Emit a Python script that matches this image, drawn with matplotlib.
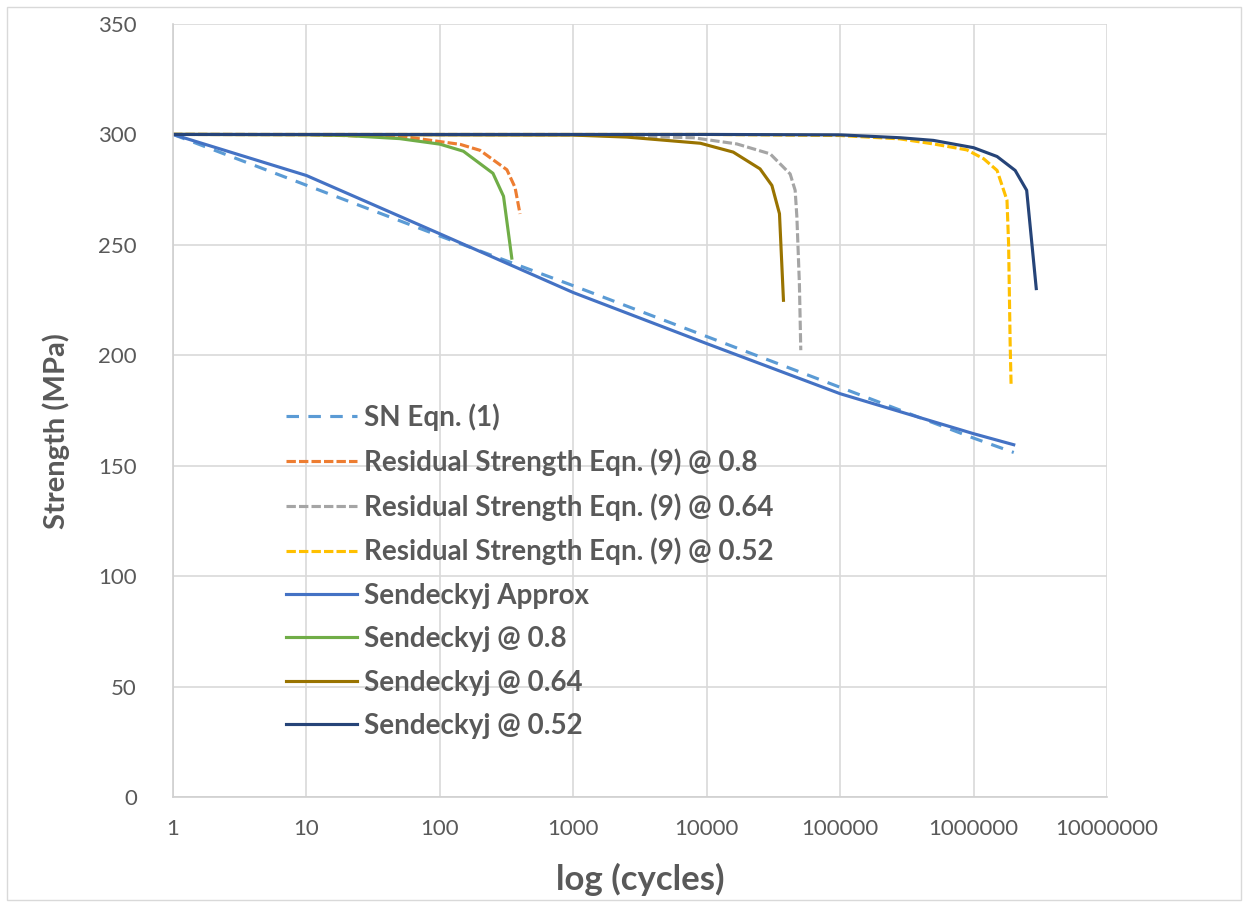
import matplotlib.pyplot as plt
from matplotlib.patches import Rectangle

# Dados (ciclos, resistência em MPa)
sn_ciclos = [1, 10, 100, 1000, 1e4, 1e5, 1e6, 2e6]
sn_forca = [300, 277, 254, 231.5, 208.5, 185.5, 162.5, 156]

res08_ciclos = [1, 10, 57, 142, 200, 318, 366, 399]
res08_forca = [300, 299.9, 298.8, 295.5, 292.8, 284, 276, 264]

res064_ciclos = [1, 1000, 7940, 16800, 29900, 42200, 46000, 47400, 49500, 50700]
res064_forca = [300, 299.8, 298.5, 295.7, 291.2, 282.1, 274.7, 262.6, 232.4, 202.3]

res052_ciclos = [1, 1e4, 1e5, 2.8e5, 5e5, 8.9e5, 1.19e6, 1.5e6, 1.78e6, 1.83e6, 1.88e6, 1.91e6]
res052_forca = [300, 300, 299.5, 298, 295.7, 293, 289, 283.7, 270.2, 250.5, 205.3, 187.1]

send_ciclos = [1, 10, 100, 1000, 1e4, 1e5, 1e6, 2e6]
send_forca = [300, 281.4, 255, 228.4, 205.3, 182.6, 164.5, 159.5]

send08_ciclos = [1, 10, 20, 50, 100, 150, 250, 300, 346]
send08_forca = [300, 299.9, 299.5, 298.1, 295.6, 292.4, 282.4, 272, 244]

send064_ciclos = [1, 1000, 2520, 8970, 15800, 25100, 30800, 35100, 37600]
send064_forca = [300, 299.7, 298.8, 296, 292, 284.4, 276.9, 264.1, 224.9]

send052_ciclos = [1, 1e4, 1e5, 2.82e5, 5e5, 1e6, 1.5e6, 2.05e6, 2.5e6, 2.95e6]
send052_forca = [300, 300, 299.8, 298.5, 297.3, 294, 290, 283.7, 274.7, 230.2]

plt.rcParams["font.family"] = ["Lato", "DejaVu Sans"]
cinza = "#595959"

fig = plt.figure(figsize=(12.49, 9.07), dpi=100)
ax = fig.add_axes([173 / 1249, 1 - 797 / 907, 934 / 1249, 773 / 907])

lw = 2.25
ax.plot(sn_ciclos, sn_forca, color="#5B9BD5", lw=lw, dashes=(4, 3), label="SN Eqn. (1)")
ax.plot(res08_ciclos, res08_forca, color="#ED7D31", lw=lw, dashes=(3, 1), label="Residual Strength Eqn. (9) @ 0.8")
ax.plot(res064_ciclos, res064_forca, color="#A5A5A5", lw=lw, dashes=(3, 1), label="Residual Strength Eqn. (9) @ 0.64")
ax.plot(res052_ciclos, res052_forca, color="#FFC000", lw=lw, dashes=(3, 1), label="Residual Strength Eqn. (9) @ 0.52")
ax.plot(send_ciclos, send_forca, color="#4472C4", lw=lw, label="Sendeckyj Approx")
ax.plot(send08_ciclos, send08_forca, color="#70AD47", lw=lw, label="Sendeckyj @ 0.8")
ax.plot(send064_ciclos, send064_forca, color="#997300", lw=lw, label="Sendeckyj @ 0.64")
ax.plot(send052_ciclos, send052_forca, color="#264478", lw=lw, label="Sendeckyj @ 0.52")

ax.set_xscale("log")
ax.set_xlim(1, 1e7)
ax.set_ylim(0, 350)
ax.set_xticks([10 ** i for i in range(8)])
ax.set_xticklabels([str(10 ** i) for i in range(8)])
ax.minorticks_off()
ax.set_yticks(range(0, 351, 50))

ax.grid(True, color="#d9d9d9", lw=1.2)
ax.set_axisbelow(True)
for lado in ["top", "right"]:
    ax.spines[lado].set_visible(False)
for lado in ["left", "bottom"]:
    ax.spines[lado].set_color("#d0d0d0")
    ax.spines[lado].set_linewidth(1.2)
ax.tick_params(length=0, labelsize=16, labelcolor=cinza)
ax.tick_params(axis="y", pad=26)
ax.tick_params(axis="x", pad=16)

fig.text(56 / 1249, 1 - 431 / 907, "Strength (MPa)", rotation=90, ha="center", va="center",
         fontsize=21, fontweight="bold", color=cinza)
fig.text(640 / 1249, 1 - 879 / 907, "log (cycles)", ha="center", va="center",
         fontsize=25, fontweight="bold", color=cinza)

leg = ax.legend(loc="upper left", bbox_to_anchor=(286 / 1249, 1 - 403 / 907), bbox_transform=fig.transFigure,
                frameon=False, fontsize=20, handlelength=2.56, handletextpad=0.25, labelspacing=0.625,
                borderpad=0, borderaxespad=0)
for t in leg.get_texts():
    t.set_color(cinza)
    t.set_fontweight("bold")

# Borda do gráfico
fig.patches.append(Rectangle((7 / 1249, 1 - 900 / 907), 1234 / 1249, 893 / 907, transform=fig.transFigure,
                             fill=False, edgecolor="#d9d9d9", lw=1))

plt.savefig("out.png", dpi=100)
